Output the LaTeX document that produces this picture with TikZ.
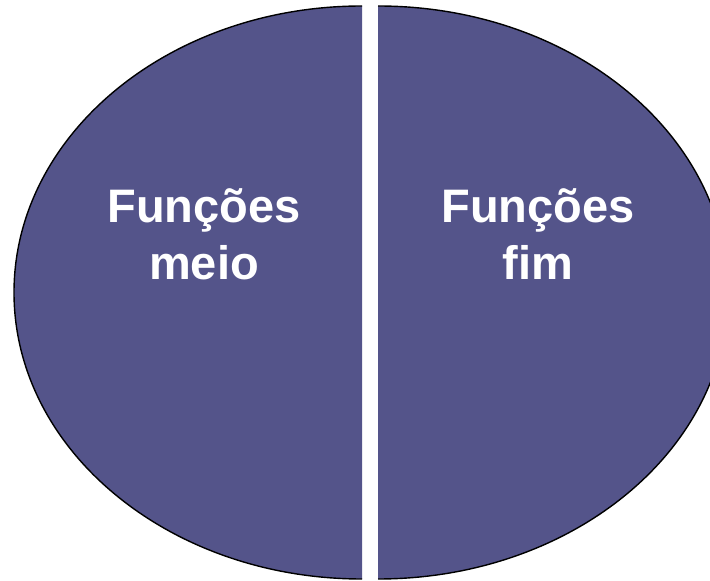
\documentclass[tikz,border=0pt]{standalone}
\usepackage{fontspec}
\setmainfont{Liberation Sans}
\definecolor{halffill}{RGB}{84,84,138}
\begin{document}
\begin{tikzpicture}[x=1pt,y=1pt,
  halftext/.style={text=white,font=\bfseries\fontsize{47}{56}\selectfont,anchor=base,inner sep=0pt},
  rim/.style={draw=black,line width=1.4pt}]
\useasboundingbox (0,0) rectangle (710,581);
\clip (0,0) rectangle (710,581);
% left half
\fill[halffill] (362,575) arc[start angle=90,end angle=270,x radius=348,y radius=286.5] -- cycle;
\draw[rim] (362,575) arc[start angle=90,end angle=270,x radius=348,y radius=286.5];
% right half
\fill[halffill] (378,575) arc[start angle=90,end angle=-90,x radius=350,y radius=286.5] -- cycle;
\draw[rim] (378,575) arc[start angle=90,end angle=-90,x radius=350,y radius=286.5];
\node[halftext] (l1) at (204,358) {Funções};
\node[halftext] (l2) at (204,301) {meio};
\node[halftext] (r1) at (538,358) {Funções};
\node[halftext] (r2) at (538,301) {fim};
\end{tikzpicture}
\end{document}
